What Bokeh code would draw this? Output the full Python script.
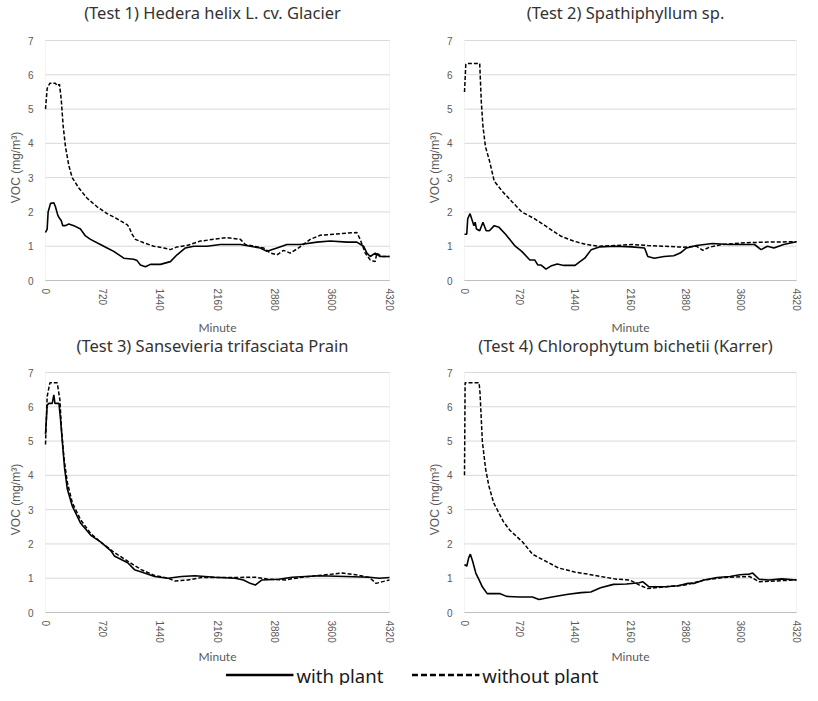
from bokeh.plotting import figure
from bokeh.layouts import column, row
from bokeh.models import Range1d, FixedTicker, Legend, LegendItem, Label, BoxAnnotation
from bokeh.embed import file_html
from bokeh.resources import INLINE

# ---------------- data ----------------
titles = ["(Test 1) Hedera helix L. cv. Glacier",
          "(Test 2) Spathiphyllum sp.",
          "(Test 3) Sansevieria trifasciata Prain",
          "(Test 4) Chlorophytum bichetii (Karrer)"]
x_ticks = [0, 720, 1440, 2160, 2880, 3600, 4320]
y_ticks = [0, 1, 2, 3, 4, 5, 6, 7]
legend_labels = ["with plant", "without plant"]
x_title = "Minute"
y_title = "VOC (mg/m\u00b3)"

t1_with_min = [0, 21, 33, 63, 105, 125, 155, 180, 197, 217, 251, 293, 356, 439, 502, 565, 690, 774, 857, 983,
               1108, 1150, 1192, 1255, 1317, 1443, 1568, 1652, 1757, 1861, 2028, 2196, 2447, 2572, 2698, 2781,
               2907, 3032, 3200, 3409, 3576, 3785, 3910, 3994, 4036, 4078, 4140, 4203, 4320]
t1_with_voc = [1.4, 1.5, 2.0, 2.25, 2.27, 2.15, 1.9, 1.8, 1.75, 1.6, 1.6, 1.65, 1.6, 1.5, 1.3, 1.2, 1.05, 0.95, 0.85, 0.65,
               0.62, 0.58, 0.45, 0.4, 0.47, 0.47, 0.55, 0.75, 0.95, 1.0, 1.0, 1.05, 1.05, 1.0, 0.95, 0.85,
               0.95, 1.05, 1.05, 1.12, 1.15, 1.12, 1.12, 1.0, 0.8, 0.7, 0.8, 0.7, 0.7]
t1_without_min = [0, 21, 54, 125, 146, 176, 197, 222, 251, 293, 335, 418, 523, 648, 774, 899, 1025, 1046, 1087, 1129,
                  1234, 1359, 1485, 1568, 1652, 1777, 1945, 2112, 2279, 2447, 2509, 2614, 2739, 2823, 2907, 2990,
                  3074, 3179, 3325, 3450, 3618, 3785, 3910, 3952, 4015, 4078, 4140, 4161, 4224, 4320]
t1_without_voc = [5.0, 5.6, 5.75, 5.75, 5.68, 5.72, 5.3, 4.5, 3.9, 3.35, 3.0, 2.7, 2.4, 2.15, 1.95, 1.8, 1.63, 1.57, 1.35, 1.2,
                  1.1, 1.0, 0.95, 0.9, 0.98, 1.02, 1.15, 1.2, 1.25, 1.2, 1.05, 1.0, 0.95, 0.8, 0.75, 0.88,
                  0.8, 0.95, 1.2, 1.32, 1.35, 1.38, 1.4, 1.2, 0.8, 0.6, 0.55, 0.8, 0.7, 0.7]

t2_with_min = [0, 29, 42, 72, 101, 122, 139, 156, 198, 240, 282, 324, 387, 450, 534, 660, 745, 850, 913, 955,
               997, 1060, 1123, 1207, 1292, 1439, 1502, 1565, 1649, 1754, 1965, 2175, 2343, 2385, 2470, 2596,
               2722, 2806, 2890, 3016, 3227, 3437, 3774, 3858, 3942, 4026, 4152, 4320]
t2_with_voc = [1.35, 1.35, 1.8, 1.95, 1.75, 1.6, 1.7, 1.5, 1.45, 1.7, 1.45, 1.45, 1.6, 1.55, 1.35, 1.0, 0.85, 0.6, 0.6, 0.45,
               0.45, 0.33, 0.42, 0.48, 0.44, 0.44, 0.55, 0.65, 0.9, 0.98, 1.0, 0.98, 0.95, 0.7, 0.65, 0.7,
               0.72, 0.8, 0.95, 1.02, 1.08, 1.05, 1.05, 0.9, 1.0, 0.95, 1.05, 1.13]
t2_without_min = [0, 17, 29, 198, 219, 240, 273, 324, 387, 492, 618, 745, 913, 1081, 1249, 1418, 1586, 1754, 1965, 2175,
                  2385, 2596, 2848, 3016, 3101, 3185, 3353, 3647, 3942, 4320]
t2_without_voc = [5.5, 6.3, 6.33, 6.33, 5.2, 4.5, 3.9, 3.5, 2.9, 2.6, 2.3, 2.0, 1.8, 1.55, 1.3, 1.15, 1.05, 1.0, 1.02, 1.05,
                  1.02, 1.0, 0.97, 1.0, 0.88, 0.97, 1.05, 1.1, 1.12, 1.13]

t3_with_min = [0, 21, 42, 84, 105, 118, 169, 190, 211, 240, 274, 337, 442, 569, 695, 822, 864, 1032, 1117, 1243,
               1370, 1538, 1707, 1875, 2128, 2381, 2486, 2570, 2634, 2718, 2929, 3097, 3434, 3771, 4067, 4193, 4320]
t3_with_voc = [5.2, 6.05, 6.1, 6.1, 6.35, 6.1, 6.1, 5.6, 5.0, 4.2, 3.6, 3.1, 2.6, 2.25, 2.05, 1.8, 1.65, 1.45, 1.25, 1.15,
               1.05, 1.0, 1.05, 1.07, 1.03, 1.0, 0.95, 0.85, 0.8, 0.95, 0.97, 1.03, 1.07, 1.05, 1.03, 1.0, 1.02]
t3_without_min = [0, 21, 55, 147, 181, 202, 232, 274, 337, 442, 569, 695, 864, 1032, 1201, 1370, 1538, 1622, 1791, 1960,
                  2381, 2634, 2802, 3013, 3224, 3434, 3729, 3898, 4067, 4151, 4235, 4320]
t3_without_voc = [4.9, 6.3, 6.7, 6.7, 6.2, 5.3, 4.5, 3.8, 3.2, 2.7, 2.3, 2.05, 1.75, 1.5, 1.25, 1.08, 1.0, 0.92, 0.95, 1.02,
                  1.02, 1.03, 0.97, 0.95, 1.03, 1.08, 1.15, 1.1, 1.02, 0.85, 0.9, 0.95]

t4_with_min = [0, 29, 55, 76, 105, 147, 190, 232, 295, 464, 548, 716, 885, 969, 1138, 1349, 1517, 1643, 1770, 1938,
               2107, 2276, 2318, 2402, 2613, 2781, 2908, 2992, 3118, 3287, 3455, 3582, 3708, 3750, 3834, 3961, 4130, 4320]
t4_with_voc = [1.4, 1.35, 1.6, 1.7, 1.5, 1.15, 0.95, 0.75, 0.55, 0.55, 0.47, 0.45, 0.45, 0.38, 0.45, 0.53, 0.58, 0.6, 0.72, 0.82,
               0.83, 0.87, 0.9, 0.75, 0.75, 0.78, 0.85, 0.85, 0.95, 1.02, 1.05, 1.1, 1.12, 1.15, 0.97, 0.95, 0.98, 0.95]
t4_without_min = [0, 8, 21, 190, 202, 232, 274, 316, 379, 506, 590, 759, 885, 1011, 1222, 1433, 1601, 1770, 1981, 2149,
                  2276, 2381, 2613, 2866, 3118, 3371, 3708, 3834, 4046, 4320]
t4_without_voc = [4.0, 6.7, 6.7, 6.7, 6.4, 5.0, 4.2, 3.7, 3.2, 2.65, 2.4, 2.05, 1.7, 1.55, 1.3, 1.18, 1.12, 1.05, 0.97, 0.95,
                  0.8, 0.7, 0.75, 0.8, 0.95, 1.02, 1.05, 0.9, 0.92, 0.95]

series = [
    (t1_with_min, t1_with_voc, t1_without_min, t1_without_voc),
    (t2_with_min, t2_with_voc, t2_without_min, t2_without_voc),
    (t3_with_min, t3_with_voc, t3_without_min, t3_without_voc),
    (t4_with_min, t4_with_voc, t4_without_min, t4_without_voc),
]

# ---------------- styling ----------------
TICK_FONT = "Liberation Sans"
TITLE_FONT = "Noto Sans"
TEXT_COL = "#595959"
GRID_COL = "#d9d9d9"
PLOT_H = 240            # pixel height of the 0..7 plot area
HPAD = 6                # frame room left/right of the plot area (for edge tick labels)
X0, X1 = x_ticks[0], x_ticks[-1]
Y0, Y1 = y_ticks[0], y_ticks[-1]


def make_panel(i, plot_w, bl, br, pad_top, pad_bottom, title_off, xlab_off):
    """The frame covers the plot area plus room for the title and the x-axis texts."""
    py = (Y1 - Y0) / PLOT_H          # data units per pixel (y)
    px = (X1 - X0) / plot_w          # data units per pixel (x)
    p = figure(frame_width=plot_w + 2 * HPAD, frame_height=PLOT_H + pad_top + pad_bottom,
               output_backend="svg", toolbar_location=None,
               x_range=Range1d(X0 - HPAD * px, X1 + HPAD * px),
               y_range=Range1d(Y0 - pad_bottom * py, Y1 + pad_top * py),
               min_border_left=bl, min_border_right=br, min_border_top=0, min_border_bottom=0)

    # horizontal gridlines and plot-area border
    p.segment(x0=[X0] * len(y_ticks), y0=y_ticks, x1=[X1] * len(y_ticks), y1=y_ticks,
              line_color=GRID_COL, line_width=1, level="underlay")
    p.add_layout(BoxAnnotation(left=X0, right=X1, bottom=Y0, top=Y1, fill_alpha=0,
                               line_color=GRID_COL, line_width=1, level="underlay"))

    wm, wv, om, ov = series[i]
    p.line(om, ov, line_color="black", line_width=1.5, line_dash="4 2")
    p.line(wm, wv, line_color="black", line_width=1.6)

    p.xaxis.ticker = FixedTicker(ticks=x_ticks)
    p.yaxis.ticker = FixedTicker(ticks=y_ticks)
    p.xaxis.fixed_location = Y0
    p.xaxis.bounds = (X0, X1)
    p.yaxis.bounds = (Y0, Y1)
    p.xaxis.major_label_orientation = "vertical"
    for ax in (p.xaxis, p.yaxis):
        ax.major_tick_line_color = None
        ax.minor_tick_line_color = None
        ax.major_tick_out = 0
        ax.major_tick_in = 0
        ax.major_label_text_font = TICK_FONT
        ax.major_label_text_font_size = "10px"
        ax.major_label_text_color = TEXT_COL
        ax.axis_label_text_font_style = "normal"
        ax.axis_label_text_color = TEXT_COL
    p.yaxis.axis_line_color = None
    p.xaxis.axis_line_color = "#bfbfbf"
    p.xaxis.major_label_standoff = 8
    p.yaxis.major_label_standoff = 6
    p.yaxis.axis_label = y_title
    p.yaxis.axis_label_text_font = TICK_FONT
    p.yaxis.axis_label_text_font_size = "12px"
    p.yaxis.axis_label_standoff = 2

    # chart title and x-axis title, inside the (extended) frame
    p.add_layout(Label(x=(X0 + X1) / 2 - 5 * px, y=Y1 + title_off * py, text=titles[i],
                       text_align="center", text_baseline="middle", text_font=TITLE_FONT,
                       text_font_size="16.5px", text_color="#333333"))
    p.add_layout(Label(x=(X0 + X1) / 2, y=Y0 - xlab_off * py, text=x_title, text_align="center",
                       text_baseline="middle", text_font="Lato", text_font_size="12px",
                       text_color=TEXT_COL))
    p.xgrid.grid_line_color = None
    p.ygrid.grid_line_color = None
    p.outline_line_color = None
    p.background_fill_color = "white"
    p.border_fill_color = "white"
    return p


p1 = make_panel(0, 344, 39, 3, 40, 54, 28, 47)
p2 = make_panel(1, 332, 60, 0, 40, 54, 28, 47)
p3 = make_panel(2, 344, 39, 3, 38, 52, 27, 44)
p4 = make_panel(3, 332, 60, 0, 38, 52, 27, 44)

# legend strip
leg = figure(width=802, height=21, output_backend="svg", toolbar_location=None,
             x_range=(0, 1), y_range=(0, 1), x_axis_type=None, y_axis_type=None,
             min_border_left=22, min_border_right=0, min_border_top=0, min_border_bottom=0)
leg.outline_line_color = None
leg.xgrid.visible = False
leg.ygrid.visible = False
r_with = leg.line([-10, -9], [-10, -9], line_color="black", line_width=2.5)
r_without = leg.line([-10, -9], [-10, -9], line_color="black", line_width=2.5, line_dash="6 3")
legend = Legend(items=[LegendItem(label=legend_labels[0], renderers=[r_with]),
                       LegendItem(label=legend_labels[1], renderers=[r_without])],
                orientation="horizontal", location="center",
                label_text_font=TITLE_FONT, label_text_font_size="18.5px", label_text_color="#1a1a1a",
                label_height=18, glyph_width=68, glyph_height=18, label_standoff=3, spacing=28,
                padding=0, margin=0, border_line_color=None, background_fill_alpha=0)
leg.add_layout(legend, "center")

layout = column(row(p1, p2), row(p3, p4), leg)

open("out.html", "w").write(file_html(layout, INLINE))
